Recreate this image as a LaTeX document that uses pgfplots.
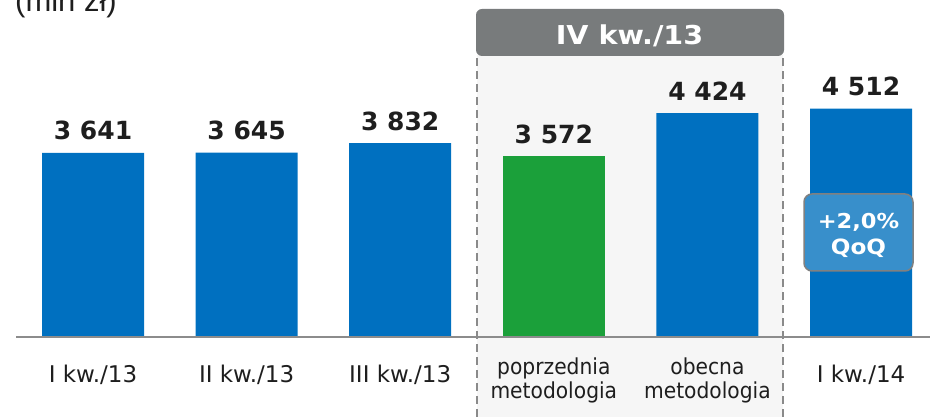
\documentclass[border=0pt]{standalone}
\usepackage{pgfplots}
\pgfplotsset{compat=1.18}
\usepackage{fontspec}
\setmainfont{DejaVu Sans}
\newfontfamily\arial{Liberation Sans}
\newfontfamily\narrowfont{DejaVu Sans}[FakeStretch=0.92]
\newfontfamily\widebold{DejaVu Sans Bold}[FakeStretch=1.1]
\definecolor{barblue}{HTML}{0070C0}
\definecolor{bargreen}{HTML}{1BA03A}
\definecolor{panelgray}{HTML}{F6F6F6}
\definecolor{headergray}{HTML}{787B7C}
\definecolor{dashgray}{HTML}{8A8A8A}
\definecolor{axisgray}{HTML}{8C8C8C}
\definecolor{qoqblue}{HTML}{388FCB}
\definecolor{qoqborder}{HTML}{808080}
\definecolor{textblack}{HTML}{1E1E1E}
\begin{document}
\begin{tikzpicture}[x=1pt,y=1pt]
\clip (0,0) rectangle (930,417);
\fill[panelgray] (477,0) rectangle (783,362);
\begin{axis}[at={(0,0)}, anchor=south west, scale only axis,
  width=930pt, height=417pt,
  xmin=-0.6055, xmax=5.449, ymin=-1581, ymax=6660,
  axis line style={draw=none}, ytick=\empty,
  xtick={0,1,2,3,4,5}, major tick length=0pt,
  xticklabels={I kw./13, II kw./13, III kw./13,
    {\raisebox{8pt}{\narrowfont\fontsize{22}{24}\selectfont\begin{tabular}[t]{@{}c@{}}poprzednia\\metodologia\end{tabular}}},
    {\raisebox{8pt}{\narrowfont\fontsize{22}{24}\selectfont\begin{tabular}[t]{@{}c@{}}obecna\\metodologia\end{tabular}}},
    I kw./14},
  xticklabel style={anchor=base, yshift=34pt, inner sep=0pt,
    font=\fontsize{23}{24}\selectfont, text=textblack},
  ybar, bar width=102pt, clip=false,
  nodes near coords={\pgfmathprintnumber[assume math mode=true,1000 sep={\ }]{\pgfplotspointmeta}},
  every node near coord/.append style={anchor=base, yshift=13pt, inner sep=0pt,
    font=\fontsize{25}{30}\selectfont\bfseries, text=textblack},
]
\addplot[fill=barblue, draw=none, bar shift=0pt] coordinates {(0,3641) (1,3645) (2,3832) (4,4424) (5,4512)};
\addplot[fill=bargreen, draw=none, bar shift=0pt] coordinates {(3,3572)};
\end{axis}
\draw[axisgray, line width=2pt] (16,80) -- (930,80);
\draw[dashgray, line width=1.5pt, dash pattern=on 8pt off 5pt] (477,0) -- (477,362);
\draw[dashgray, line width=1.5pt, dash pattern=on 8pt off 5pt] (783,0) -- (783,362);
\fill[headergray, rounded corners=6pt] (476,361) rectangle (784,408);
\node[anchor=base, inner sep=0pt, text=white, font=\widebold\fontsize{26}{30}\selectfont] at (629.5,372.7) {IV kw./13};
\draw[fill=qoqblue, draw=qoqborder, line width=1.5pt, rounded corners=8pt] (804,146) rectangle (913,223);
\node[anchor=base, inner sep=0pt, text=white, font=\widebold\fontsize{20.5}{24}\selectfont] at (858.5,188.7) {+2,0\%};
\node[anchor=base, inner sep=0pt, text=white, font=\widebold\fontsize{21}{24}\selectfont] at (858.5,162) {QoQ};
\node[anchor=base west, inner sep=0pt, text=textblack, font=\arial\fontsize{31}{36}\selectfont] at (15,405) {(mln zł)};
\end{tikzpicture}
\end{document}
